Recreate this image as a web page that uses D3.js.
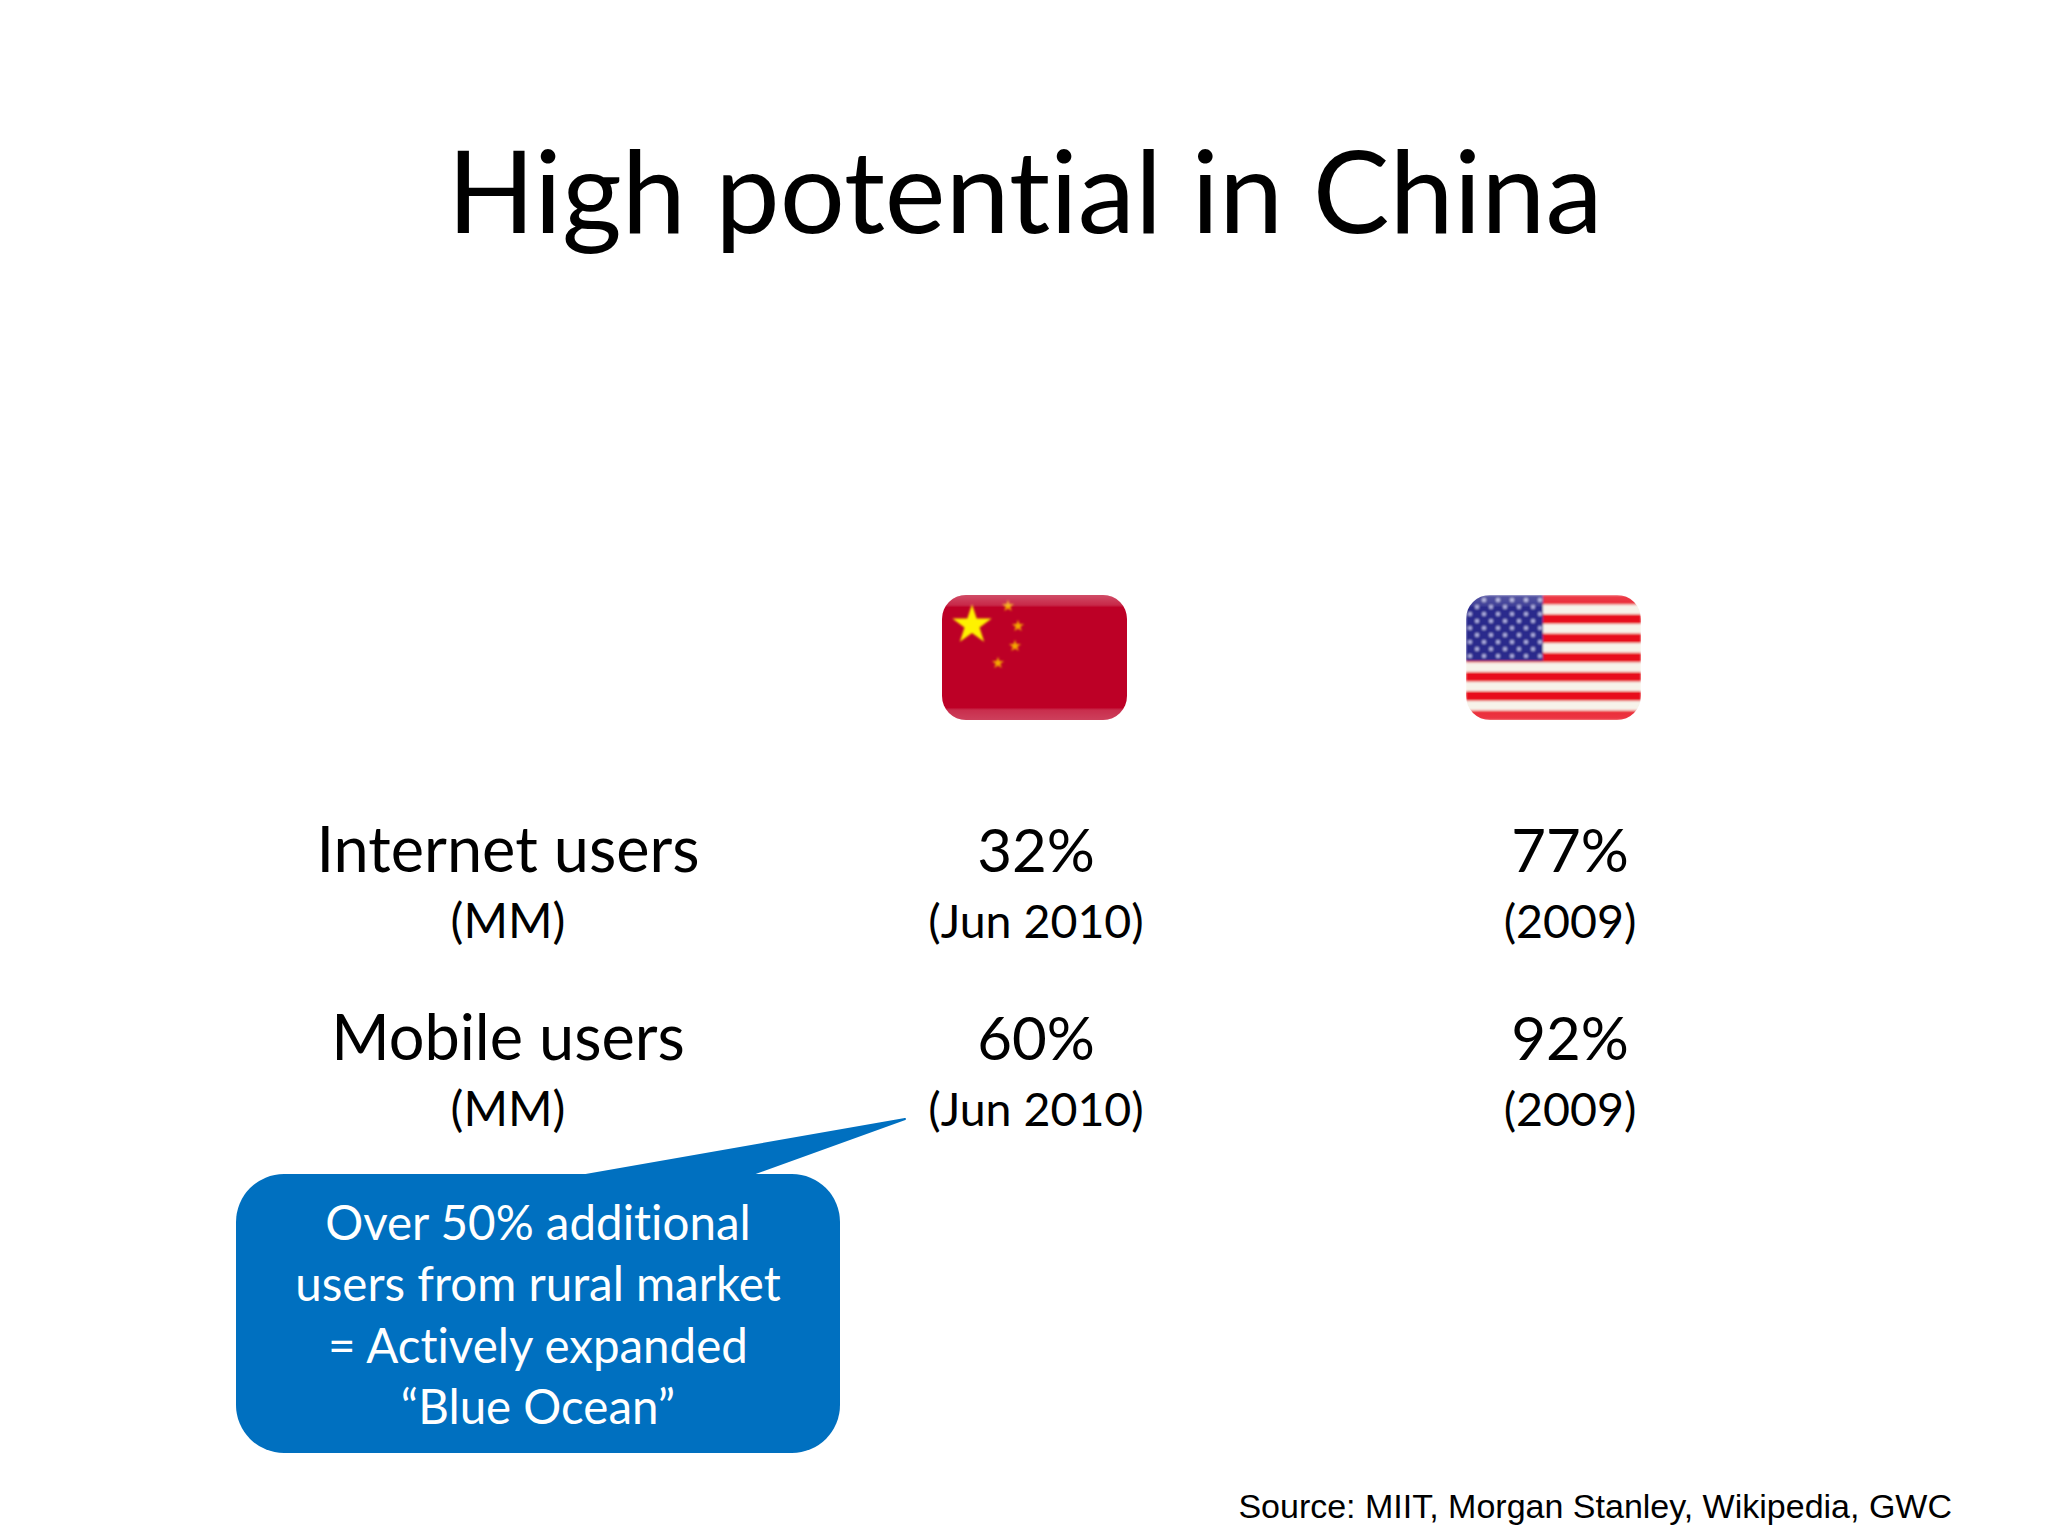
<!DOCTYPE html>
<html lang="en">
<head>
<meta charset="UTF-8">
<title>High potential in China</title>
<script src="https://d3js.org/d3.v7.min.js"></script>
<style>
    html, body { margin: 0; background: #fff; }
    svg { display: block; }
    text { font-family: Lato, "Open Sans", sans-serif; fill: #000; text-anchor: middle; font-variant-ligatures: none; }
</style>
</head>
<body>
<svg width="2048" height="1536"></svg>
<script>
    const titleText = "High potential in China";
    const rowLabels = ["Internet users", "Mobile users"];
    const rowUnits = ["(MM)", "(MM)"];
    const chinaValues = ["32%", "60%"];
    const chinaDates = ["(Jun 2010)", "(Jun 2010)"];
    const usValues = ["77%", "92%"];
    const usDates = ["(2009)", "(2009)"];
    const calloutLines = ["Over 50% additional", "users from rural market", "= Actively expanded", "\u201cBlue Ocean\u201d"];
    const sourceText = "Source: MIIT, Morgan Stanley, Wikipedia, GWC";

    const svg = d3.select("svg");
    const defs = svg.append("defs");

    // columns and rows of the little table
    const colX = d3.scaleOrdinal().domain(["label", "China", "USA"]).range([508, 1036, 1570]);
    const rowY = d3.scalePoint().domain(rowLabels).range([872, 1060]);
    const subGap = 66;

    svg.append("text").attr("x", 1025).attr("y", 233)
        .attr("font-size", 115).text(titleText);

    // one column of big text + small text underneath
    function drawColumn(col, big, small, bigSize, smallSize) {
        rowLabels.forEach((r, i) => {
            svg.append("text").attr("x", colX(col)).attr("y", rowY(r))
                .attr("font-size", bigSize).text(big[i]);
            svg.append("text").attr("x", colX(col)).attr("y", rowY(r) + subGap)
                .attr("font-size", smallSize).text(small[i]);
        });
    }
    drawColumn("label", rowLabels, rowUnits, 63, 48);
    drawColumn("China", chinaValues, chinaDates, 60, 46.5);
    drawColumn("USA", usValues, usDates, 60, 46.5);

    // flags
    const soft = defs.append("filter").attr("id", "soft");
    soft.append("feGaussianBlur").attr("stdDeviation", 0.9);

    const gloss = defs.append("linearGradient").attr("id", "gloss").attr("x2", 0).attr("y2", 1);
    [[0, 0.3], [0.08, 0.16], [0.1, 0], [0.9, 0], [0.92, 0.18], [1, 0.25]].forEach(s => {
        gloss.append("stop").attr("offset", s[0]).attr("stop-color", "#fff").attr("stop-opacity", s[1]);
    });

    const star = d3.symbol().type(d3.symbolStar);

    function flagGroup(id, x, y, w, h) {
        defs.append("clipPath").attr("id", id)
            .append("rect").attr("width", w).attr("height", h).attr("rx", 24);
        return svg.append("g").attr("transform", `translate(${x},${y})`).attr("clip-path", `url(#${id})`);
    }

    const cn = flagGroup("clip-cn", 942, 595, 185, 125);
    cn.append("rect").attr("width", 185).attr("height", 125).attr("fill", "#bd0026");
    cn.append("path").attr("d", star.size(480)()).attr("fill", "#fff200").attr("filter", "url(#soft)")
        .attr("transform", "translate(30,30)");
    [[66, 11], [76, 31], [73, 51], [56, 68]].forEach(p => {
        cn.append("path").attr("d", star.size(45)()).attr("fill", "#f5a800").attr("filter", "url(#soft)")
            .attr("transform", `translate(${p[0]},${p[1]})`);
    });
    cn.append("rect").attr("width", 185).attr("height", 125).attr("fill", "url(#gloss)");

    const us = flagGroup("clip-us", 1466, 595, 175, 125);
    const stripeY = d3.scaleBand().domain(d3.range(13)).range([0, 125]);
    const stripes = us.append("g").attr("filter", "url(#soft)");
    d3.range(13).forEach(i => {
        stripes.append("rect").attr("y", stripeY(i)).attr("width", 175).attr("height", stripeY.bandwidth() + 0.5)
            .attr("fill", i % 2 ? "#f7f3ea" : "#e8101a");
    });
    stripes.append("rect").attr("width", 77).attr("height", 66).attr("fill", "#2c2c8c");
    d3.range(9).forEach(r => {
        d3.range(r % 2 ? 5 : 6).forEach(c => {
            stripes.append("circle").attr("r", 2).attr("fill", "#b9b9e8")
                .attr("cx", (r % 2 ? 11 : 4) + c * 14).attr("cy", 5 + r * 7);
        });
    });
    us.append("rect").attr("width", 175).attr("height", 125).attr("fill", "url(#gloss)").attr("opacity", 0.7);

    // callout bubble
    const bubble = { x: 236, y: 1178, w: 604, h: 279, r: 48 };
    bubble.y = 1174;
    const tail = [[580, 1176], [905, 1119], [747, 1176]];
    const calloutColor = "#0070c0";
    svg.append("path").attr("d", d3.line()(tail) + "Z").attr("fill", calloutColor)
        .attr("stroke", calloutColor).attr("stroke-width", 2).attr("stroke-linejoin", "round");
    svg.append("rect").attr("x", bubble.x).attr("y", bubble.y).attr("width", bubble.w).attr("height", bubble.h)
        .attr("rx", bubble.r).attr("fill", calloutColor);

    const lineY = d3.scalePoint().domain(calloutLines).range([1240, 1424]);
    svg.selectAll(".callout").data(calloutLines).join("text")
        .attr("class", "callout")
        .attr("x", 538).attr("y", d => lineY(d))
        .attr("font-size", 47.5).style("fill", "#fff").text(d => d);

    svg.append("text").attr("x", 1952).attr("y", 1518)
        .attr("font-size", 34)
        .style("font-family", '"Liberation Sans", Arial, sans-serif')
        .style("text-anchor", "end").text(sourceText);
</script>
</body>
</html>
